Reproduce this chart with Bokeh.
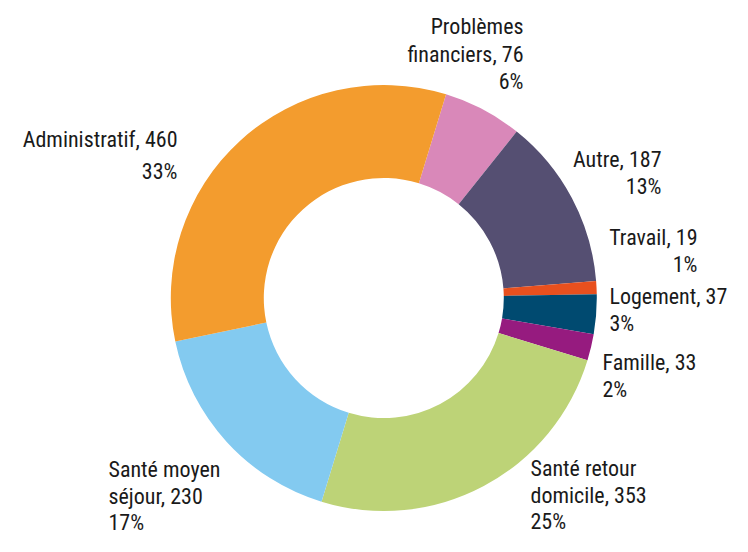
import numpy as np
from bokeh.plotting import figure
from bokeh.models import Range1d, ColumnDataSource
from bokeh.core.properties import value
from bokeh.embed import file_html
from bokeh.resources import INLINE

# ---- data (clockwise from the pink slice) ----
categories = ["Problèmes\nfinanciers", "Autre", "Travail", "Logement", "Famille",
              "Santé retour\ndomicile", "Santé moyen\nséjour", "Administratif"]
counts = [76, 187, 19, 37, 33, 353, 230, 460]
percents = [6, 13, 1, 3, 2, 25, 17, 33]
colors = ["#D988B9", "#554F72", "#E8501E", "#004A70", "#961B7F",
          "#BDD377", "#83CAF0", "#F39C2E"]

# ---- layout (picture pixel coordinates) ----
W, H = 732, 536
cx, cy = 383.3, 297.5
r_out, r_in = 213, 120
start_deg = 17  # clockwise from 12 o'clock
TEXT_DY = 9     # renderer draws alphabetic baseline this much lower

# label anchor: x, align, baselines of each line
label_layout = [
    (523, "right", [35, 63, 90]),
    (661, "right", [168, 195]),
    (697, "right", [246, 273]),
    (609, "left", [305, 332]),
    (602, "left", [371, 398]),
    (530, "left", [477, 504, 530]),
    (108, "left", [478, 505, 531]),
    (177, "right", [148, 180]),
]

def py(y):
    return H - y

p = figure(width=W, height=H, output_backend="svg", toolbar_location=None,
           x_range=Range1d(0, W), y_range=Range1d(0, H), min_border=0)
p.axis.visible = False
p.grid.visible = False
p.outline_line_color = None
p.background_fill_color = "white"

frac = np.array(percents, dtype=float) / np.sum(percents)
cum = np.concatenate([[0], np.cumsum(frac)]) * 360.0
theta_start = start_deg + cum[:-1]
theta_end = start_deg + cum[1:]

src = ColumnDataSource(dict(
    x=[cx] * len(counts), y=[py(cy)] * len(counts),
    start=90 - theta_start, end=90 - theta_end, color=colors))
p.annular_wedge(x="x", y="y", inner_radius=r_in, outer_radius=r_out,
                start_angle="start", end_angle="end", direction="clock",
                start_angle_units="deg", end_angle_units="deg",
                fill_color="color", line_color=None, source=src)

tx, ty, tt, ta = [], [], [], []
for cat, cnt, pct, (lx, al, bases) in zip(categories, counts, percents, label_layout):
    lines = cat.split("\n")
    lines[-1] = f"{lines[-1]}, {cnt}"
    lines.append(f"{pct}%")
    for ln, b in zip(lines, bases):
        tx.append(lx); ty.append(py(b - TEXT_DY)); tt.append(ln); ta.append(al)

FONT = "'Roboto Condensed', 'DejaVu Sans Condensed', 'Noto Sans Condensed', 'Open Sans Condensed', 'Liberation Sans'"
tsrc = ColumnDataSource(dict(x=tx, y=ty, text=tt, align=ta))
p.text(x="x", y="y", text="text", text_align="align", text_baseline="alphabetic",
       text_font=value(FONT), text_font_size="22px",
       text_color="#1a1a1a", source=tsrc)

open("out.html", "w").write(file_html(p, INLINE))
